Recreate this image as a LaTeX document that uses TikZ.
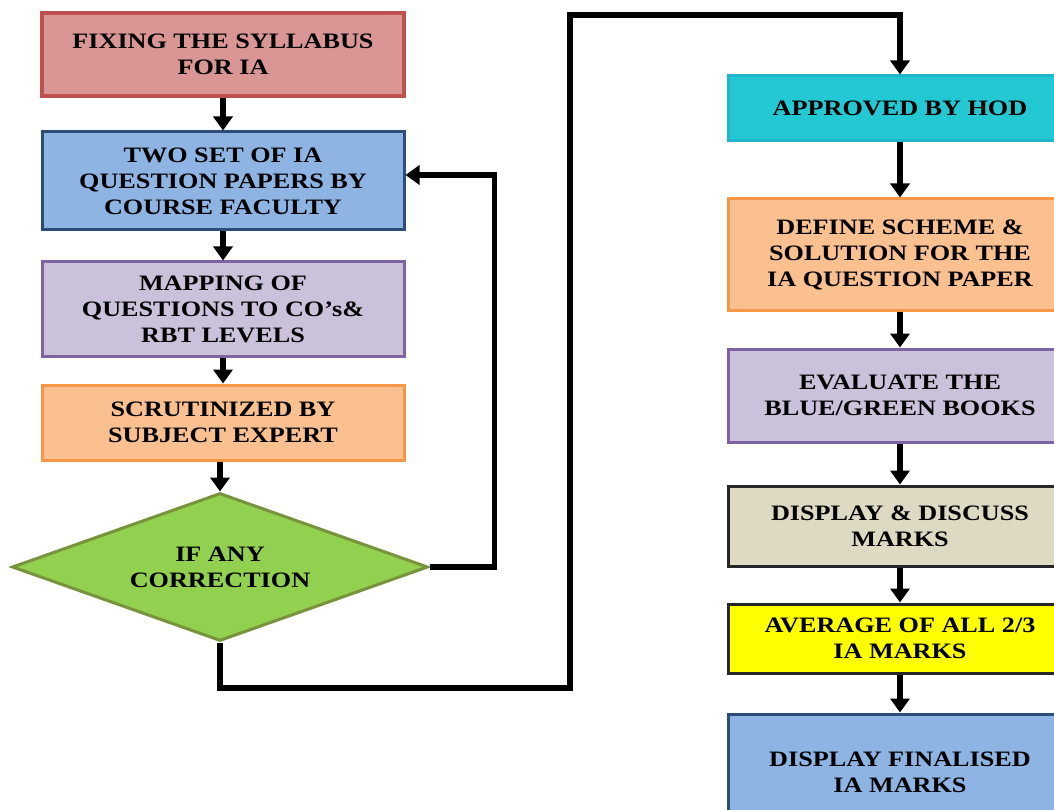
\documentclass[tikz,border=0pt]{standalone}
\usepackage{fontspec}
\setmainfont{Liberation Serif}[FakeStretch=1.19]
\usetikzlibrary{arrows.meta,shapes.geometric}

\definecolor{redfill}{HTML}{D99694}
\definecolor{redline}{HTML}{C0504D}
\definecolor{bluefill}{HTML}{8EB4E3}
\definecolor{blueline}{HTML}{2C4D75}
\definecolor{lilacfill}{HTML}{CCC1DA}
\definecolor{lilacline}{HTML}{8064A2}
\definecolor{orangefill}{HTML}{FAC090}
\definecolor{orangeline}{HTML}{F79646}
\definecolor{greenfill}{HTML}{92D050}
\definecolor{greenline}{HTML}{77933C}
\definecolor{cyanfill}{HTML}{23C8D2}
\definecolor{cyanline}{HTML}{1FB5CC}
\definecolor{beigefill}{HTML}{DDD9C3}
\definecolor{darkline}{HTML}{262626}
\definecolor{yellowfill}{HTML}{FFFF00}

\begin{document}
\begin{tikzpicture}[x=1pt,y=-1pt,
  box/.style={draw, line width=3pt, inner sep=0pt, align=center,
    font=\fontsize{22}{26}\selectfont\bfseries},
  leftbox/.style={box, minimum width=362pt},
  rightbox/.style={box, minimum width=344pt},
  decision/.style={box, diamond, aspect=2.8, minimum width=416pt, minimum height=148pt,
    fill=greenfill, draw=greenline},
  arr/.style={line width=5.5pt, -{Triangle[width=19pt,length=14pt]}}]
\useasboundingbox (0,0) rectangle (1054,810);

\node[leftbox, fill=redfill, draw=redline, line width=4pt, minimum height=83pt] (syl) at (223,54.5) {FIXING THE SYLLABUS\\FOR IA};
\node[leftbox, fill=bluefill, draw=blueline, minimum height=98pt] (two) at (223,181) {TWO SET OF IA\\QUESTION PAPERS BY\\COURSE FACULTY};
\node[leftbox, fill=lilacfill, draw=lilacline, minimum height=94pt] (map) at (223,309) {MAPPING OF\\QUESTIONS TO CO’s\&\\RBT LEVELS};
\node[leftbox, fill=orangefill, draw=orangeline, minimum height=75pt] (scr) at (223,422.5) {SCRUTINIZED BY\\SUBJECT EXPERT};
\node[decision] (dec) at (220,567) {IF ANY\\CORRECTION};

\node[rightbox, fill=cyanfill, draw=cyanline, minimum height=65pt] (hod) at (900,108.5) {APPROVED BY HOD};
\node[rightbox, fill=orangefill, draw=orangeline, minimum height=111pt] (sch) at (900,254.5) {DEFINE SCHEME \&\\SOLUTION FOR THE\\IA QUESTION PAPER};
\node[rightbox, fill=lilacfill, draw=lilacline, minimum height=93pt] (eva) at (900,395.5) {EVALUATE THE\\BLUE/GREEN BOOKS};
\node[rightbox, fill=beigefill, draw=darkline, minimum height=80pt] (dis) at (900,526) {DISPLAY \& DISCUSS\\MARKS};
\node[rightbox, fill=yellowfill, draw=darkline, minimum height=69pt] (avg) at (900,638.5) {AVERAGE OF ALL 2/3\\IA MARKS};
\node[rightbox, fill=bluefill, draw=blueline, minimum height=116pt] (fin) at (900,772) {DISPLAY FINALISED\\IA MARKS};

\coordinate (turn) at (570,15);

\draw[arr] (syl) -- (two);
\draw[arr] (two) -- (map);
\draw[arr] (map) -- (scr);
\draw[arr] (scr.south -| dec.north) -- (dec.north);
\draw[arr] (dec.east) -- ++(65,0) |- ([yshift=6pt]two.east);
\draw[arr] (dec.south) |- (570,688) -- (turn) -| (hod.north);
\draw[arr] (hod) -- (sch);
\draw[arr] (sch) -- (eva);
\draw[arr] (eva) -- (dis);
\draw[arr] (dis) -- (avg);
\draw[arr] (avg) -- (fin);
\end{tikzpicture}
\end{document}
